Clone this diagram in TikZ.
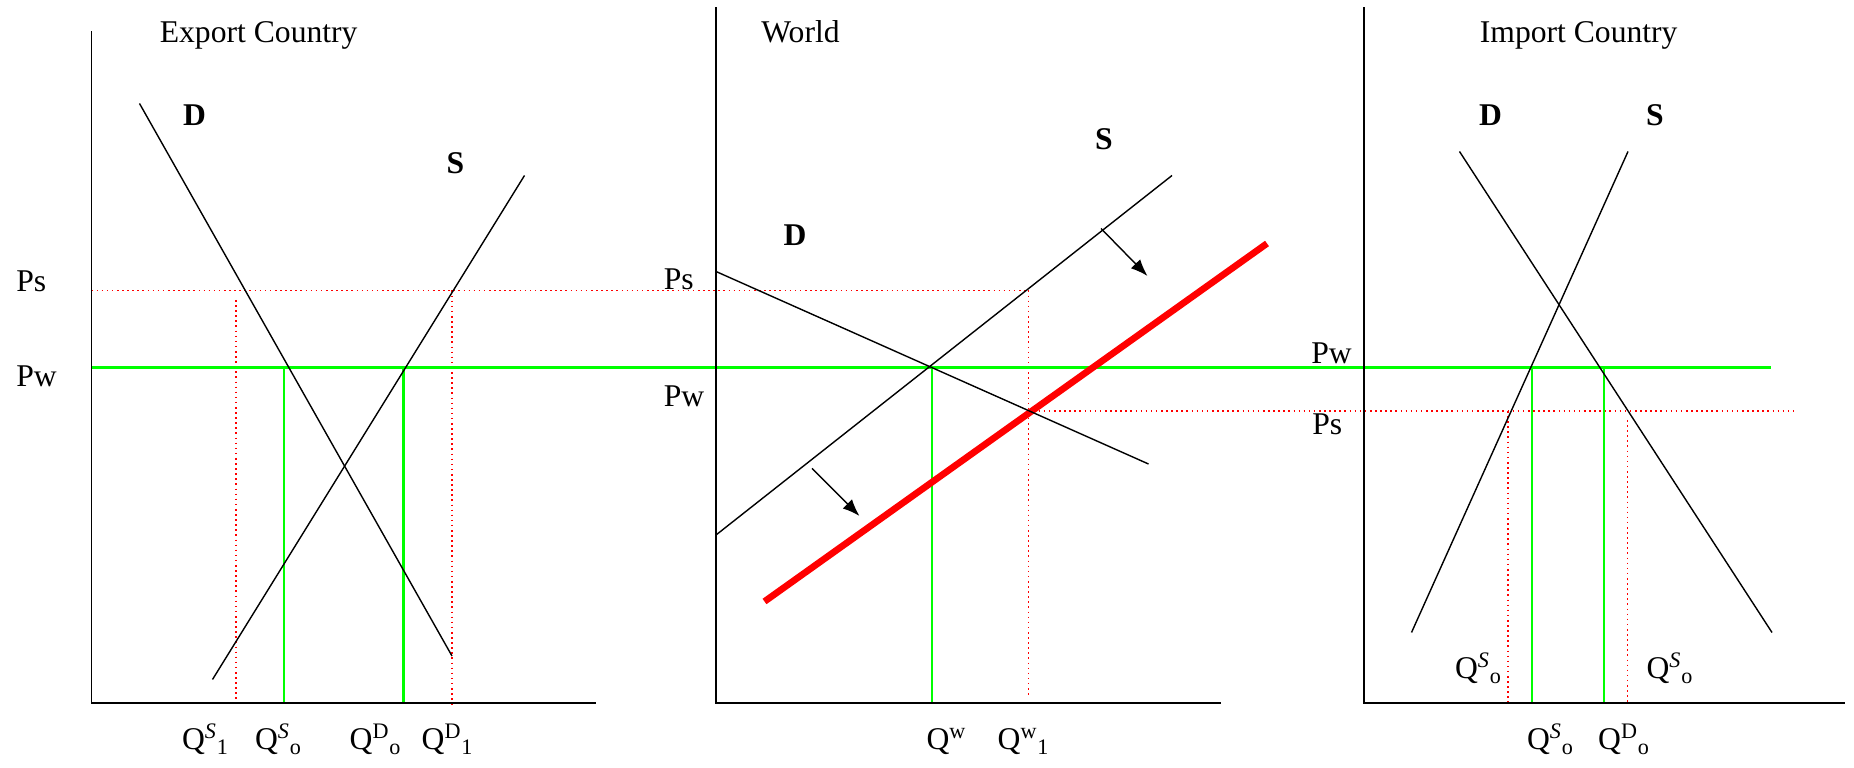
\documentclass[tikz,border=0pt]{standalone}
\usepackage{fontspec}
\setmainfont{Liberation Serif}
\usetikzlibrary{arrows.meta}

\begin{document}
\begin{tikzpicture}[>={Latex[length=3.4mm,width=2.6mm]},
  every node/.style={inner sep=0pt,font=\fontsize{18}{21}\selectfont},
  axis/.style={line width=1.1pt},
  curve/.style={line width=0.8pt},
  pwline/.style={green,line width=1.5pt},
  psline/.style={red,dotted,line width=0.9pt},
  newsupply/.style={red,line width=3.8pt}]
  \useasboundingbox (0,0) rectangle (37.08,15.36);

  % export country
  \node[anchor=base west] (ExT) at (3.19,14.50) {Export Country};
  \node (ExD) at (3.89,13.05) {\textbf{D}};
  \node (ExS) at (9.11,12.09) {\textbf{S}};
  \node[anchor=base west] (ExPs) at (0.32,9.53) {Ps};
  \node[anchor=base west] (ExPw) at (0.32,7.62) {Pw};
  \node[anchor=base] (ExQs1) at (4.11,0.36) {Q\textsuperscript{\textit{S}}\textsubscript{1}};
  \node[anchor=base] (ExQso) at (5.57,0.36) {Q\textsuperscript{\textit{S}}\textsubscript{o}};
  \node[anchor=base] (ExQdo) at (7.51,0.36) {Q\textsuperscript{D}\textsubscript{o}};
  \node[anchor=base] (ExQd1) at (8.95,0.36) {Q\textsuperscript{D}\textsubscript{1}};

  % world
  \node[anchor=base west] (WoT) at (15.22,14.50) {World};
  \node (WoD) at (15.90,10.65) {\textbf{D}};
  \node (WoS) at (22.08,12.57) {\textbf{S}};
  \node[anchor=base west] (WoPs) at (13.27,9.56) {Ps};
  \node[anchor=base west] (WoPw) at (13.27,7.23) {Pw};
  \node[anchor=base] (WoQw) at (18.93,0.36) {Q\textsuperscript{w}};
  \node[anchor=base] (WoQw1) at (20.47,0.36) {Q\textsuperscript{w}\textsubscript{1}};

  % import country
  \node[anchor=base west] (ImT) at (29.59,14.50) {Import Country};
  \node (ImD) at (29.81,13.05) {\textbf{D}};
  \node (ImS) at (33.10,13.05) {\textbf{S}};
  \node[anchor=base west] (ImPw) at (26.22,8.09) {Pw};
  \node[anchor=base west] (ImPs) at (26.24,6.66) {Ps};
  \node[anchor=base] (ImQl) at (29.57,1.79) {Q\textsuperscript{\textit{S}}\textsubscript{o}};
  \node[anchor=base] (ImQr) at (33.40,1.79) {Q\textsuperscript{\textit{S}}\textsubscript{o}};
  \node[anchor=base] (ImQso) at (31.01,0.36) {Q\textsuperscript{\textit{S}}\textsubscript{o}};
  \node[anchor=base] (ImQdo) at (32.48,0.36) {Q\textsuperscript{D}\textsubscript{o}};

  % price lines
  \draw[psline] (1.83,9.55) -- (20.57,9.55);
  \draw[psline] (20.57,7.14) -- (35.88,7.14);
  \draw[psline] (4.72,9.36) -- (4.72,1.26);
  \draw[psline] (9.04,9.55) -- (9.04,1.26);
  \draw[psline] (20.57,9.55) -- (20.57,1.46);
  \draw[psline] (30.16,7.14) -- (30.16,1.23);
  \draw[psline] (32.55,6.96) -- (32.55,1.26);
  \draw[pwline] (1.83,8.01) -- (35.42,8.01);
  \draw[pwline] (5.68,8.01) -- (5.68,1.30);
  \draw[pwline] (8.07,8.01) -- (8.07,1.30);
  \draw[pwline] (18.64,8.01) -- (18.64,1.30);
  \draw[pwline] (30.64,8.01) -- (30.64,1.30);
  \draw[pwline] (32.08,8.01) -- (32.08,1.30);
  \draw[newsupply] (15.29,3.33) -- (25.34,10.49);

  % curves
  \draw[curve] (2.79,13.29) -- (9.04,2.24);
  \draw[curve] (4.25,1.77) -- (10.49,11.85);
  \draw[curve] (14.32,9.93) -- (22.97,6.08);
  \draw[curve] (14.32,4.66) -- (23.44,11.85);
  \draw[curve] (29.19,12.33) -- (35.44,2.71);
  \draw[curve] (32.56,12.33) -- (28.23,2.71);
  \draw[curve,->] (22.02,10.79) -- (22.95,9.84);
  \draw[curve,->] (16.24,5.99) -- (17.19,5.04);

  % axes
  \draw[axis] (1.83,14.73) -- (1.83,1.30) -- (11.92,1.30);
  \draw[axis] (14.32,15.21) -- (14.32,1.30) -- (24.41,1.30);
  \draw[axis] (27.28,15.21) -- (27.28,1.30) -- (36.89,1.30);
\end{tikzpicture}
\end{document}
